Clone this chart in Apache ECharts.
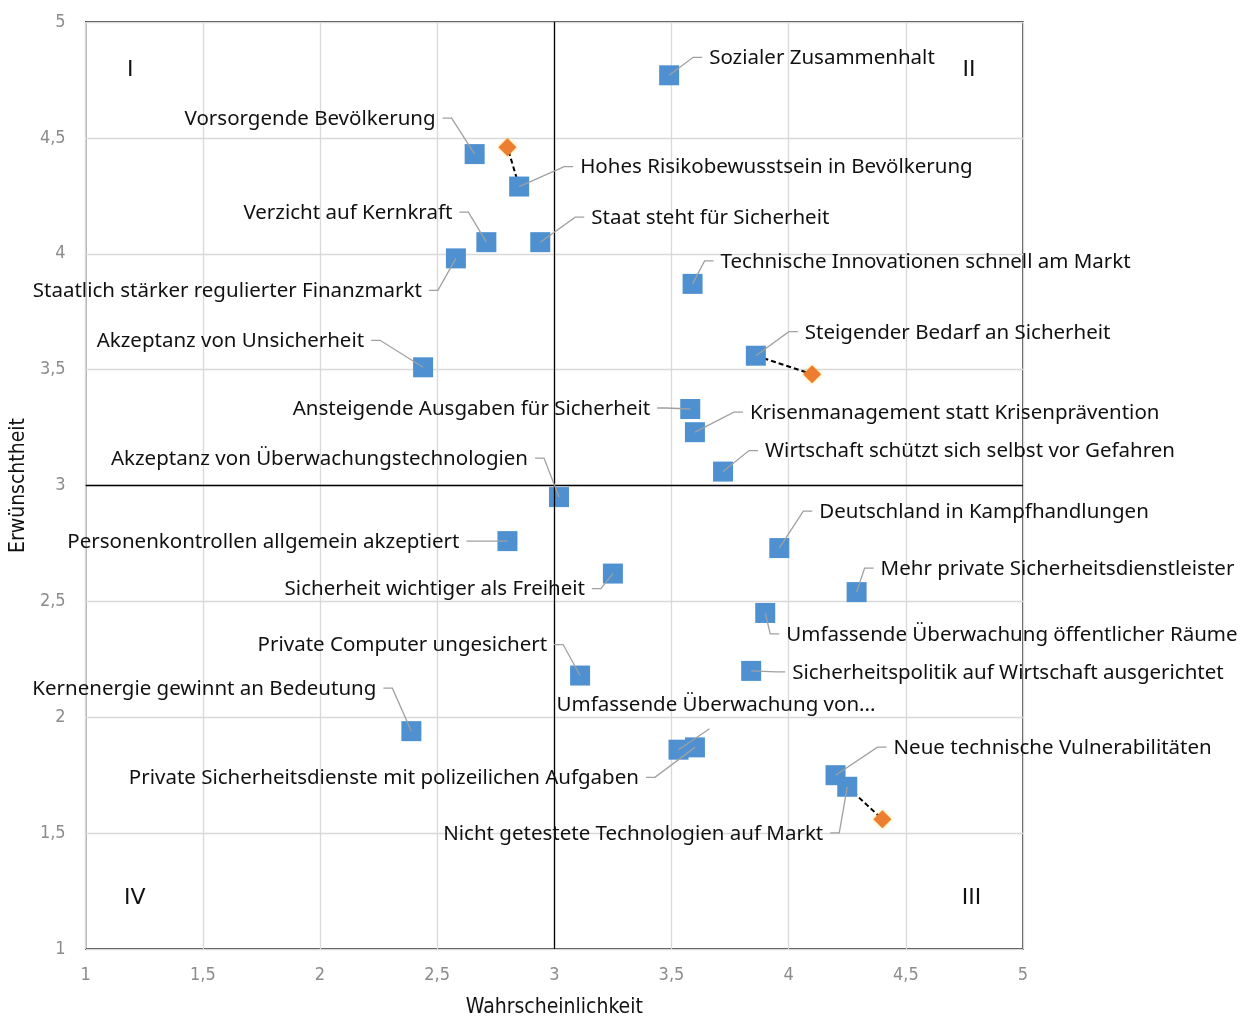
<!DOCTYPE html>
<html><head><meta charset="utf-8">
<script src="https://cdn.jsdelivr.net/npm/echarts@6/dist/echarts.min.js"></script>
<style>html,body{margin:0;padding:0;background:#fff;overflow:hidden}#chart{width:1250px;height:1023px}</style>
</head><body><div id="chart"></div>
<script>
// ---- data ----
const labels = [
  'Sozialer Zusammenhalt',
  'Vorsorgende Bevölkerung',
  'Hohes Risikobewusstsein in Bevölkerung',
  'Verzicht auf Kernkraft',
  'Staat steht für Sicherheit',
  'Staatlich stärker regulierter Finanzmarkt',
  'Technische Innovationen schnell am Markt',
  'Akzeptanz von Unsicherheit',
  'Steigender Bedarf an Sicherheit',
  'Ansteigende Ausgaben für Sicherheit',
  'Krisenmanagement statt Krisenprävention',
  'Wirtschaft schützt sich selbst vor Gefahren',
  'Akzeptanz von Überwachungstechnologien',
  'Personenkontrollen allgemein akzeptiert',
  'Sicherheit wichtiger als Freiheit',
  'Deutschland in Kampfhandlungen',
  'Mehr private Sicherheitsdienstleister',
  'Umfassende Überwachung öffentlicher Räume',
  'Private Computer ungesichert',
  'Sicherheitspolitik auf Wirtschaft ausgerichtet',
  'Kernenergie gewinnt an Bedeutung',
  'Umfassende Überwachung von...',
  'Private Sicherheitsdienste mit polizeilichen Aufgaben',
  'Neue technische Vulnerabilitäten',
  'Nicht getestete Technologien auf Markt'
];
const xValues = [3.49, 2.66, 2.85, 2.71, 2.94, 2.58, 3.59, 2.44, 3.86, 3.58, 3.60, 3.72, 3.02, 2.80, 3.25, 3.96, 4.29, 3.90, 3.11, 3.84, 2.39, 3.53, 3.60, 4.20, 4.25];
const yValues = [4.77, 4.43, 4.29, 4.05, 4.05, 3.98, 3.87, 3.51, 3.56, 3.33, 3.23, 3.06, 2.95, 2.76, 2.62, 2.73, 2.54, 2.45, 2.18, 2.20, 1.94, 1.86, 1.87, 1.75, 1.70];
const forecastX = [2.80, 4.10, 4.40];
const forecastY = [4.46, 3.48, 1.56];
const forecastOf = [2, 8, 24];
const quadrantNames = ['I', 'II', 'III', 'IV'];
const quadrantX = [1.19, 4.77, 4.78, 1.21];
const quadrantY = [4.79, 4.79, 1.22, 1.22];
const axisTicks = [1, 1.5, 2, 2.5, 3, 3.5, 4, 4.5, 5];

// ---- label layout (pixel offsets of leader elbow from point) ----
const labelLayout = [
  {e:[24,-18], s:1}, {e:[-23,-36], s:-1}, {e:[45,-20], s:1}, {e:[-18,-30], s:-1},
  {e:[35,-25], s:1}, {e:[-18,32], s:-1}, {e:[12,-23], s:1}, {e:[-43,-27], s:-1},
  {e:[33,-24], s:1}, {e:[-24,-1], s:-1}, {e:[39,-20], s:1}, {e:[26,-21], s:1},
  {e:[-15,-39], s:-1}, {e:[-32,0], s:-1}, {e:[-12,15], s:-1}, {e:[24,-37], s:1},
  {e:[8,-24], s:1}, {e:[5,21], s:1}, {e:[-17,-31], s:-1}, {e:[25,1], s:1},
  {e:[-19,-43], s:-1}, {e:[31,-21], t:[-122,-45]}, {e:[-40,30], s:-1}, {e:[42,-28], s:1},
  {e:[-8,46], s:-1}
];

const LABEL_FONT = '20.5px "Noto Sans", sans-serif';
const ROMAN_FONT = '22px "DejaVu Sans", "Liberation Sans", sans-serif';
const AXIS_FONT = '"DejaVu Sans Condensed", "Liberation Sans", sans-serif';

const pointData = xValues.map((x, i) => [x, yValues[i]]);
const series = [];

forecastOf.forEach((idx, k) => {
  series.push({
    type: 'line', z: 1, silent: true, symbol: 'none',
    data: [[xValues[idx], yValues[idx]], [forecastX[k], forecastY[k]]],
    lineStyle: {color: '#000', width: 2, type: [5, 3]}
  });
});

series.push({
  type: 'scatter', z: 3, symbol: 'rect', symbolSize: 20,
  itemStyle: {color: '#4F91D0', opacity: 1},
  data: pointData,
  markLine: {
    silent: true, symbol: 'none', animation: false,
    label: {show: false},
    lineStyle: {color: '#000', width: 1.3, type: 'solid'},
    data: [{xAxis: 3}, {yAxis: 3}]
  }
});

series.push({
  type: 'scatter', z: 4, symbol: 'diamond', symbolSize: 18,
  itemStyle: {color: '#ED7D31', opacity: 1, shadowColor: 'rgba(255,200,0,0.7)', shadowBlur: 3},
  data: forecastX.map((x, k) => [x, forecastY[k]])
});

series.push({
  type: 'custom', z: 5, silent: true, clip: false,
  data: quadrantX.map((x, k) => [x, quadrantY[k]]),
  renderItem: function (params, api) {
    const p = api.coord([api.value(0), api.value(1)]);
    return {type: 'text', style: {text: quadrantNames[params.dataIndex], x: p[0], y: p[1], align: 'center', verticalAlign: 'middle', font: ROMAN_FONT, fill: '#111'}};
  }
});

series.push({
  type: 'custom', z: 6, silent: true, clip: false,
  data: pointData,
  renderItem: function (params, api) {
    const i = params.dataIndex;
    const p = api.coord([api.value(0), api.value(1)]);
    const L = labelLayout[i];
    const e = [p[0] + L.e[0], p[1] + L.e[1]];
    let pts, tx, ty, align;
    if (L.t) {
      pts = [p, e]; tx = p[0] + L.t[0]; ty = p[1] + L.t[1]; align = 'left';
    } else {
      const h = [e[0] + 9 * L.s, e[1]];
      pts = [p, e, h]; tx = h[0] + 7 * L.s; ty = e[1] + 1; align = L.s > 0 ? 'left' : 'right';
    }
    return {
      type: 'group',
      children: [
        {type: 'polyline', shape: {points: pts}, style: {stroke: '#a0a0a0', lineWidth: 1.3, fill: null}},
        {type: 'text', style: {text: labels[i], x: tx, y: ty, align: align, verticalAlign: 'middle', font: LABEL_FONT, fill: '#111'}}
      ]
    };
  }
});

const fmt = v => String(v).replace('.', ',');
const chart = echarts.init(document.getElementById('chart'), null, {width: 1250, height: 1023});
chart.setOption({
  animation: false,
  backgroundColor: '#fff',
  grid: {left: 82, width: 941, top: 22, height: 933, show: true, borderColor: '#000', borderWidth: 1.3, containLabel: false},
  xAxis: {
    type: 'value', min: axisTicks[0], max: axisTicks[axisTicks.length - 1], interval: axisTicks[1] - axisTicks[0],
    name: 'Wahrscheinlichkeit', nameLocation: 'middle', nameGap: 48,
    nameTextStyle: {fontFamily: AXIS_FONT, fontSize: 21, color: '#111'},
    axisLine: {show: false}, axisTick: {show: false},
    axisLabel: {formatter: fmt, color: '#8c8c8c', fontSize: 18, fontFamily: AXIS_FONT, margin: 17},
    splitLine: {lineStyle: {color: '#d9d9d9', width: 1.3}}
  },
  yAxis: {
    type: 'value', min: axisTicks[0], max: axisTicks[axisTicks.length - 1], interval: axisTicks[1] - axisTicks[0],
    name: 'Erwünschtheit', nameLocation: 'middle', nameGap: 55,
    nameTextStyle: {fontFamily: AXIS_FONT, fontSize: 21, color: '#111'},
    axisLine: {show: false}, axisTick: {show: false},
    axisLabel: {formatter: fmt, color: '#8c8c8c', fontSize: 18, fontFamily: AXIS_FONT, margin: 20},
    splitLine: {lineStyle: {color: '#d9d9d9', width: 1.3}}
  },
  series: series
});
</script>
</body></html>
